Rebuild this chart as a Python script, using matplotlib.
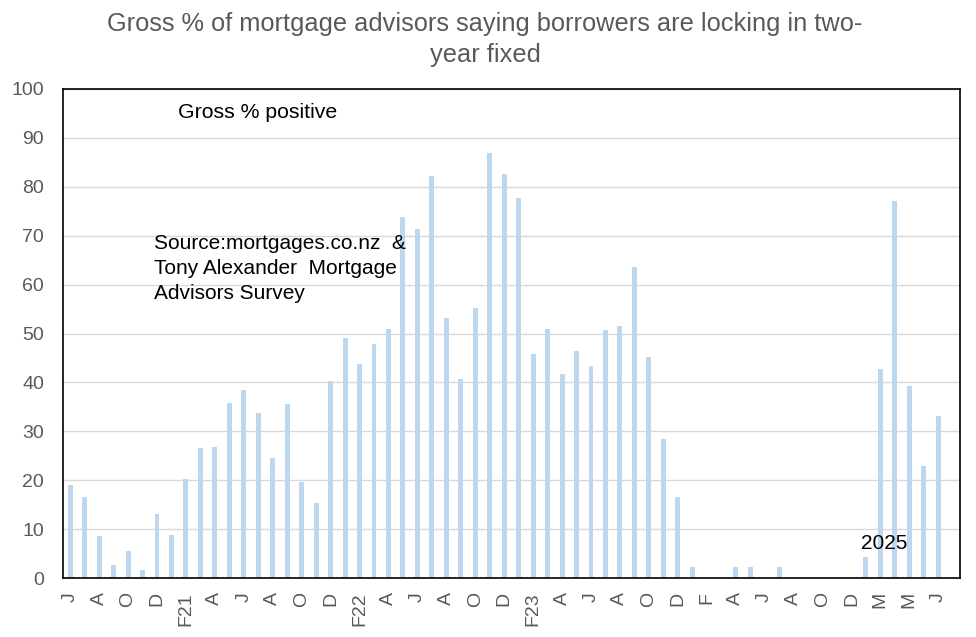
import numpy as np
import matplotlib
matplotlib.use("Agg")
import matplotlib.pyplot as plt

plt.rcParams['font.family'] = ['Liberation Sans', 'DejaVu Sans']

# monthly survey, Jun 2020 - Jul 2025 (no Jan 2025 survey)
month_labels = [
    "J", "J", "A", "S", "O", "N", "D",
    "J", "F21", "M", "A", "M", "J", "J", "A", "S", "O", "N", "D",
    "J", "F22", "M", "A", "M", "J", "J", "A", "S", "O", "N", "D",
    "J", "F23", "M", "A", "M", "J", "J", "A", "S", "O", "N", "D",
    "J", "F", "M", "A", "M", "J", "J", "A", "S", "O", "N", "D",
    "F", "M", "A", "M", "J", "J",
]
gross_positive = [
    19.0, 16.6, 8.6, 2.7, 5.5, 1.6, 13.1,
    8.8, 20.2, 26.6, 26.8, 35.8, 38.4, 33.8, 24.5, 35.6, 19.6, 15.3, 40.3,
    49.1, 43.8, 47.9, 51.0, 73.8, 71.4, 82.2, 53.2, 40.7, 55.2, 86.9, 82.6,
    77.7, 45.8, 50.9, 41.7, 46.4, 43.4, 50.7, 51.5, 63.6, 45.2, 28.4, 16.6,
    2.2, 0, 0, 2.2, 2.2, 0, 2.2, 0, 0, 0, 0, 0,
    4.3, 42.7, 77.0, 39.2, 22.9, 33.1,
]

grey = "#595959"
fig = plt.figure(figsize=(9.76, 6.37), dpi=100)
ax = fig.add_axes([0.0645, 0.0926, 0.919, 0.7677])

x = np.arange(len(gross_positive))
ax.bar(x, gross_positive, width=0.34, color="#BDD7EE", zorder=2)

ax.set_ylim(0, 100)
ax.set_xlim(-0.5, len(gross_positive) + 0.5)
ax.set_yticks(np.arange(0, 101, 10))
ax.yaxis.grid(True, color="#D9D9D9", linewidth=1, zorder=0)
ax.set_axisbelow(True)

ax.set_xticks(x[::2])
ax.set_xticklabels(month_labels[::2], rotation=90)
ax.tick_params(axis="both", length=0, labelsize=14, colors=grey)
ax.tick_params(axis="y", pad=13.5)
ax.tick_params(axis="x", pad=10)
for s in ax.spines.values():
    s.set_color("black")
    s.set_linewidth(1.2)

ax.text(0.128, 0.952, "Gross % positive", transform=ax.transAxes,
        fontsize=15.3, va="center", ha="left", color="black")
ax.text(0.101, 0.704, "Source:mortgages.co.nz  &\nTony Alexander  Mortgage\nAdvisors Survey",
        transform=ax.transAxes, fontsize=15, va="top", ha="left",
        color="black", linespacing=1.4)
ax.text(56.3, 7.1, "2025", fontsize=15, va="center", ha="center", color="black")

fig.text(0.497, 0.962, "Gross % of mortgage advisors saying borrowers are locking in two-",
         ha="center", va="center", fontsize=18.3, color=grey)
fig.text(0.497, 0.913, "year fixed", ha="center", va="center", fontsize=18.3, color=grey)

fig.savefig("out.png", dpi=100)
